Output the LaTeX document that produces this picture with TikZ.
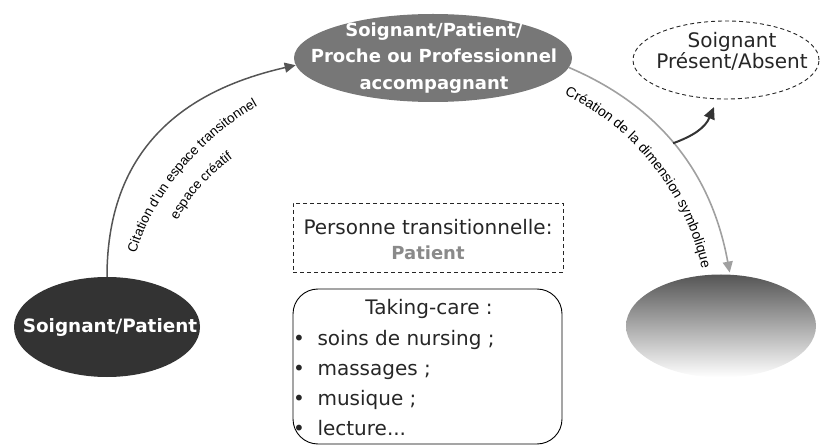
\documentclass[tikz,border=0pt]{standalone}
\usepackage{fontspec}
\setmainfont{DejaVu Sans}
\newfontfamily\labelfont{Liberation Sans}
\usetikzlibrary{arrows.meta,shapes.geometric,decorations.text}
\definecolor{midgray}{HTML}{777777}
\definecolor{darkfill}{HTML}{333333}
\definecolor{arcgray}{HTML}{A0A0A0}
\definecolor{arcdark}{HTML}{555555}
\definecolor{patgray}{HTML}{8A8A8A}
\definecolor{gradtop}{HTML}{555555}
\begin{document}
\begin{tikzpicture}[x=1pt,y=-1pt,
  ell/.style={ellipse, inner sep=0pt},
  dashline/.style={draw=black!85, line width=0.9pt, dash pattern=on 4pt off 3pt},
  bodytext/.style={font=\fontsize{20}{22}\selectfont, text=black!85},
  boldtext/.style={font=\bfseries\fontsize{18}{26.5}\selectfont, text=white, align=center},
  bigtip/.style={-{Triangle[length=11pt,width=10pt]}}]
\useasboundingbox (0,0) rectangle (822,446);

% ellipses
\node[ell, fill=midgray, minimum width=278pt, minimum height=88pt] (top) at (433,58) {};
\node[boldtext] (toptext) at (434,58) {Soignant/Patient/\\Proche ou Professionnel\\accompagnant};

\node[ell, fill=darkfill, minimum width=186pt, minimum height=100pt] (bl) at (107,327) {};
\node[boldtext, font=\bfseries\fontsize{18.4}{22}\selectfont] (bltext) at (110,327) {Soignant/Patient};

\node[ell, dashline, minimum width=186pt, minimum height=78pt] (absent) at (726,60) {};
\node[bodytext, align=center, font=\fontsize{20}{21}\selectfont] (absenttext) at (732,51) {Soignant\\Présent/Absent};

\node[ell, top color=gradtop, bottom color=white, minimum width=190pt, minimum height=103pt] (br) at (721,326) {};

% dashed box
\node[dashline, minimum width=270pt, minimum height=69pt] (pers) at (428,237.5) {};
\node[bodytext, anchor=base] (perstext) at (428,235) {Personne transitionnelle:};
\node[bodytext, anchor=base, font=\bfseries\fontsize{18}{22}\selectfont, text=patgray] (pattext) at (428,260) {Patient};

% taking-care box
\node[draw=black, line width=0.9pt, rounded corners=25pt, minimum width=269pt, minimum height=155pt] (care) at (427.5,366.5) {};
\node[bodytext, anchor=base] (t0) at (429,315) {Taking-care :};
\node[bodytext, anchor=base] (b1) at (299,345) {•};
\node[bodytext, anchor=base west] (t1) at (314,345) {soins de nursing ;};
\node[bodytext, anchor=base] (b2) at (299,375) {•};
\node[bodytext, anchor=base west] (t2) at (314,375) {massages ;};
\node[bodytext, anchor=base] (b3) at (299,405) {•};
\node[bodytext, anchor=base west] (t3) at (314,405) {musique ;};
\node[bodytext, anchor=base] (b4) at (299,435) {•};
\node[bodytext, anchor=base west] (t4) at (314,435) {lecture...};

% connectors
\draw[arcdark, line width=1.5pt, bigtip] (bl.north) .. controls (107,140) and (195,88) .. (top.183);
\draw[arcgray, line width=1.6pt, bigtip, shorten >=2pt] (top.-4) .. controls (652,103) and (710,165) .. coordinate[pos=0.5] (branch) (br.80);
\coordinate (stip) at (714,107);
\draw[darkfill, line width=2pt, -{Triangle[length=12pt,width=11pt]}] (branch) .. controls (693,136) and (705,128) .. (stip);

% labels along the arcs
\path[decorate, decoration={text along path, text align=center,
  text={|\labelfont\fontsize{13.5}{15}\selectfont|Citation d'un espace transitonnel}}]
  (132,268) .. controls (146,203) and (201,133) .. (271,99);
\path[decorate, decoration={text along path, text align=center,
  text={|\labelfont\fontsize{13.5}{15}\selectfont|espace créatif}}]
  (169,238) .. controls (184,202) and (209,172) .. (249,147);
\path[decorate, decoration={text along path, text align=center,
  text={|\labelfont\fontsize{14}{16}\selectfont|Création de la dimension symbolique}}]
  (554,90) .. controls (630,122) and (690,195) .. (704,280);
\end{tikzpicture}
\end{document}
